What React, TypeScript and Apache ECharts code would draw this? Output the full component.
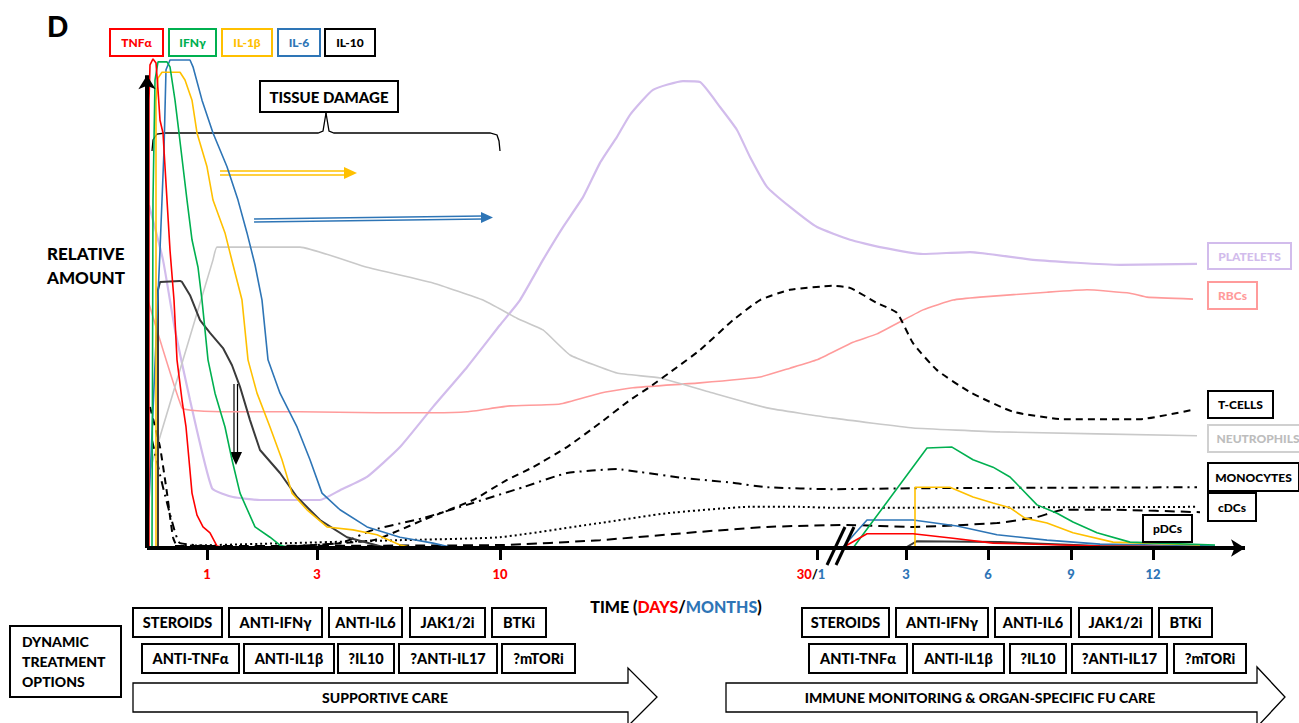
import React, { useEffect, useRef } from "react";
import * as echarts from "echarts";

// ---- data (x: time position along axis, y: relative amount 0-100) ----
const tnfEarly = [[2,0],[2,91.4],[3,98.6],[6,99.8],[9,99],[11,93.5],[13,87.3],[16,84.7],[20,71],[23,60.8],[27,50.6],[30,38.4],[35,30.2],[39,24.7],[42,18],[45,11.2],[50,6.7],[56,4.3],[63,3.1],[70,0.4],[78,0]];
const tnfLate = [[695,0],[720,2.9],[766,2.9],[806,2],[846,1],[953,0.4],[1068,0.2]];
const ifnEarly = [[5,0],[6,71],[8,95.5],[11,99.2],[20,99.2],[23,98.2],[28,91.4],[32,84.7],[40,71],[45,62.9],[51,57.3],[55,50.6],[61,38.4],[68,31.6],[78,24.7],[85,18],[93,11.2],[108,4.3],[123,2.2],[133,0.6],[143,0]];
const ifnLate = [[706,0],[780,20.4],[805,20.6],[826,18],[846,16.5],[863,14.5],[873,12.4],[890,8.8],[910,7.1],[926,5.3],[950,3.1],[983,1.2],[1068,0.6]];
const il1Early = [[9,0],[9,91.4],[11,95.9],[15,97.1],[33,97.1],[38,95.5],[45,91.4],[50,84.7],[60,77.8],[66,71],[78,64.3],[86,57.8],[95,50.6],[101,38.4],[110,31.6],[123,24.7],[135,18],[145,11.2],[160,7.8],[180,4.3],[206,3.7],[230,2.7],[253,0.6],[268,0]];
const il1Late = [[768,0],[768,12.4],[803,12.4],[826,10.4],[846,9.2],[863,8.2],[878,6.1],[900,5.1],[926,3.1],[966,1.2],[1053,0.6]];
const il6Early = [[0,0],[13,60.8],[17,81.2],[19,97.6],[23,99.6],[43,99.6],[46,98.2],[55,91.4],[66,84.7],[80,77.8],[91,71],[100,64.3],[108,57.8],[115,50.6],[121,38.4],[133,31.6],[150,24.7],[163,18],[175,11.2],[193,7.8],[220,4.3],[253,2.2],[286,1],[303,0.2],[323,0]];
const il6Late = [[695,0],[720,5.7],[766,5.7],[810,4.5],[850,2.7],[900,1.6],[953,0.8],[1068,0.4]];
const il10Early = [[11,0],[11,52.7],[13,54.3],[33,54.5],[35,54.3],[43,51.6],[53,46.5],[63,43.9],[76,40.8],[85,37.3],[93,32.9],[103,26.1],[113,20],[133,15.3],[150,10.4],[173,5.7],[200,2.2],[236,0.2],[273,0]];
const il10Late = [[758,0],[770,1.4],[853,1.2],[953,0.4],[1053,0.2]];
const platelets = [[2,70],[16,58.8],[28,44.5],[43,30.2],[65,12.2],[86,10.4],[113,9.8],[173,9.8],[193,11.8],[220,14.5],[253,20.6],[286,28.8],[320,36.9],[353,45.5],[373,50.6],[396,58.8],[416,65.5],[436,71.6],[453,78.6],[470,83.9],[483,88.4],[506,93.5],[536,95.3],[553,95.1],[573,90],[590,85.3],[603,79.8],[620,73.7],[643,69.6],[670,65.5],[703,62.9],[733,61.4],[776,60],[823,60.4],[886,58.8],[973,57.8],[1050,58]];
const rbcs = [[0,51.2],[35,28.6],[50,28],[86,27.8],[153,27.8],[230,27.6],[286,27.6],[320,27.8],[363,29],[413,29.4],[453,31.6],[486,32.7],[553,33.7],[613,34.9],[643,36.7],[670,38.4],[706,42],[730,43.7],[776,48.6],[806,50.6],[833,51.2],[900,52.2],[940,52.7],[983,52],[1000,51.2],[1046,50.8]];
const neutrophils = [[3,15.9],[66,58.8],[70,61.4],[153,61.4],[220,57.3],[286,54.1],[336,50.6],[370,46.9],[396,44.5],[423,39.4],[470,35.7],[513,34.7],[563,31.8],[620,28.6],[686,26.5],[766,24.5],[853,23.7],[1050,22.9]];
const tcells = [[3,28.8],[13,20.6],[20,11.2],[26,2.2],[31,0.2],[103,0],[226,1.6],[276,5.7],[326,9.8],[360,13.9],[386,16.5],[420,20.6],[453,25.5],[483,30.2],[503,32.9],[530,36.9],[553,40.4],[586,46.5],[613,50.6],[643,52.7],[686,53.5],[703,53.1],[730,50],[750,48],[766,41.8],[790,36.3],[823,31.8],[866,27.8],[916,26.3],[993,26.3],[1046,28.2]];
const monocytes = [[5,22],[16,12.4],[26,4.7],[33,1],[103,0],[193,1],[226,3.7],[276,6.1],[326,9.2],[376,12.4],[420,15.3],[470,16.1],[493,15.5],[536,14.3],[586,13.3],[620,12.4],[686,12],[773,12.2],[1050,12.4]];
const cdcs = [[28,0.4],[143,1],[253,1.6],[353,2.2],[453,5.1],[520,7.1],[603,8.4],[653,8.4],[686,8.2],[1050,8.4]];
const pdcs = [[28,0.4],[353,0.6],[453,1.6],[553,3.3],[620,4.3],[700,4.7],[766,4.3],[850,5.1],[890,6.3],[916,7.8],[966,7.8],[1053,7.3]];

const tickValues = [60, 170, 353, 670, 759, 841, 924, 1006];
const tickLabels: Record<number, string> = {
  60: "{r|1}", 170: "{r|3}", 353: "{r|10}", 670: "{r|30}{k|/}{b|1}{s|}",
  759: "{b|3}", 841: "{b|6}", 924: "{b|9}", 1006: "{b|12}",
};

const treatRow1 = ["STEROIDS", "ANTI-IFNγ", "ANTI-IL6", "JAK1/2i", "BTKi"];
const treatRow2 = ["ANTI-TNFα", "ANTI-IL1β", "?IL10", "?ANTI-IL17", "?mTORi"];

const RED = "#FF0000", GREEN = "#00B050", YELLOW = "#FFC000", BLUE = "#2E75B6", DARK = "#3A3A3A";
const LAV = "#D2BCEC", PINK = "#FF9B9B", GREY = "#C9C9C9";
const F = "Lato";
const W = 900;

function box(x: number, y: number, w: number, h: number, text: string, color: string, size = 14, border = "#000", lw = 2) {
  return {
    type: "group",
    children: [
      { type: "rect", shape: { x, y, width: w, height: h }, style: { fill: "#fff", stroke: border, lineWidth: lw }, z: 20 },
      { type: "text", x: x + w / 2, y: y + h / 2, style: { text, fill: color, font: `${W} ${size}px ${F}`, align: "center", verticalAlign: "middle" }, z: 21 },
    ],
  };
}

export default function App() {
  const ref = useRef<HTMLDivElement>(null);
  useEffect(() => {
    document.body.style.margin = "0";
    const chart = echarts.init(ref.current!, null, { renderer: "svg" });
    const line = (name: string, data: any, color: string, width = 1.6, type: any = "solid", z = 3, smooth: any = false) => ({
      name, type: "line", data, symbol: "none", showSymbol: false, connectNulls: false, silent: true, z,
      smooth,
      lineStyle: { color, width, type, cap: "butt" },
    });
    const join = (a: any[], b: any[]) => [...a, [null, null], ...b];

    const row1X = [[133, 89], [229, 93], [329, 73], [410, 75], [492, 54]];
    const row2X = [[142, 97], [244, 90], [338, 56], [399, 98], [502, 73]];
    const row1R = [[802, 87], [896, 92], [995, 76], [1079, 73], [1159, 53]];
    const row2R = [[809, 98], [913, 91], [1010, 56], [1072, 95], [1174, 72]];

    const graphics: any[] = [
      { type: "text", x: 47, y: 12, style: { text: "D", fill: "#000", font: `${W} 28px ${F}` } },
      box(110, 29, 53, 27, "TNFα", RED, 12, RED),
      box(169, 29, 47, 27, "IFNγ", GREEN, 12, GREEN),
      box(222, 29, 50, 27, "IL-1β", YELLOW, 12, YELLOW),
      box(278, 29, 42, 27, "IL-6", BLUE, 12, BLUE),
      box(325, 29, 50, 27, "IL-10", "#000", 12, "#000"),
      box(260, 81, 138, 31, "TISSUE DAMAGE", "#000", 15),
      { type: "polyline", shape: { points: [[152, 151], [153, 140], [157, 134], [165, 133], [318, 133], [323, 131], [326, 113]] }, style: { stroke: "#000", lineWidth: 1.3, fill: null } },
      { type: "polyline", shape: { points: [[326, 113], [329, 131], [334, 133], [490, 133], [497, 135], [499, 141], [500, 151]] }, style: { stroke: "#000", lineWidth: 1.3, fill: null } },
      // yellow double arrow
      { type: "line", shape: { x1: 220, y1: 171, x2: 346, y2: 171 }, style: { stroke: YELLOW, lineWidth: 1.3 } },
      { type: "line", shape: { x1: 220, y1: 175, x2: 346, y2: 175 }, style: { stroke: YELLOW, lineWidth: 1.3 } },
      { type: "polygon", shape: { points: [[344, 167], [357, 173], [344, 179]] }, style: { fill: YELLOW } },
      // blue double arrow
      { type: "line", shape: { x1: 254, y1: 219, x2: 483, y2: 216 }, style: { stroke: BLUE, lineWidth: 1.3 } },
      { type: "line", shape: { x1: 254, y1: 222, x2: 483, y2: 219 }, style: { stroke: BLUE, lineWidth: 1.3 } },
      { type: "polygon", shape: { points: [[481, 212], [493, 217.5], [481, 223]] }, style: { fill: BLUE } },
      // IL-10 down arrow
      { type: "line", shape: { x1: 234, y1: 384, x2: 234, y2: 455 }, style: { stroke: "#000", lineWidth: 1.2 } },
      { type: "line", shape: { x1: 237.5, y1: 384, x2: 237.5, y2: 455 }, style: { stroke: "#000", lineWidth: 1.2 } },
      { type: "polygon", shape: { points: [[230, 452], [236, 465], [242, 452]] }, style: { fill: "#000" } },
      // axis break
      { type: "line", shape: { x1: 827, y1: 565, x2: 845, y2: 527 }, style: { stroke: "#000", lineWidth: 3 }, z: 15 },
      { type: "line", shape: { x1: 836, y1: 565, x2: 854, y2: 527 }, style: { stroke: "#000", lineWidth: 3 }, z: 15 },
      // relative amount
      { type: "text", x: 47, y: 253, style: { text: "RELATIVE", fill: "#000", font: `${W} 17px ${F}`, verticalAlign: "middle" } },
      { type: "text", x: 47, y: 277, style: { text: "AMOUNT", fill: "#000", font: `${W} 17px ${F}`, verticalAlign: "middle" } },
      // time label
      {
        type: "text", x: 676, y: 606,
        style: {
          text: "{k|TIME (}{r|DAYS}{k|/}{b|MONTHS}{k|)}", align: "center", verticalAlign: "middle",
          rich: {
            k: { fill: "#000", font: `${W} 16px ${F}` },
            r: { fill: RED, font: `${W} 16px ${F}` },
            b: { fill: BLUE, font: `${W} 16px ${F}` },
          },
        },
      },
      // right labels
      box(1208, 243, 83, 26, "PLATELETS", LAV, 12, LAV),
      box(1208, 282, 49, 27, "RBCs", PINK, 12, PINK),
      box(1208, 391, 65, 27, "T-CELLS", "#000", 12),
      box(1208, 425, 100, 27, "NEUTROPHILS", "#BDBDBD", 12, "#D0D0D0"),
      box(1208, 463, 91, 28, "MONOCYTES", "#000", 12),
      box(1208, 493, 48, 28, "cDCs", "#000", 12),
      box(1143, 515, 49, 27, "pDCs", "#000", 12),
      // bottom
      box(10, 626, 111, 71, "", "#000"),
      { type: "text", x: 22, y: 641, style: { text: "DYNAMIC", fill: "#000", font: `${W} 14px ${F}`, verticalAlign: "middle" }, z: 22 },
      { type: "text", x: 22, y: 661, style: { text: "TREATMENT", fill: "#000", font: `${W} 14px ${F}`, verticalAlign: "middle" }, z: 22 },
      { type: "text", x: 22, y: 681, style: { text: "OPTIONS", fill: "#000", font: `${W} 14px ${F}`, verticalAlign: "middle" }, z: 22 },
      { type: "polygon", shape: { points: [[133, 683], [628, 683], [628, 668], [657, 697], [628, 726], [628, 712], [133, 712]] }, style: { fill: "#fff", stroke: "#000", lineWidth: 1.3 } },
      { type: "text", x: 385, y: 697, style: { text: "SUPPORTIVE CARE", fill: "#000", font: `${W} 14px ${F}`, align: "center", verticalAlign: "middle" } },
      { type: "polygon", shape: { points: [[726, 683], [1257, 683], [1257, 667], [1285, 697], [1257, 727], [1257, 712], [726, 712]] }, style: { fill: "#fff", stroke: "#000", lineWidth: 1.3 } },
      { type: "text", x: 980, y: 697, style: { text: "IMMUNE MONITORING & ORGAN-SPECIFIC FU CARE", fill: "#000", font: `${W} 14px ${F}`, align: "center", verticalAlign: "middle" } },
    ];
    treatRow1.forEach((t, i) => {
      graphics.push(box(row1X[i][0], 608, row1X[i][1], 29, t, "#000", 14.5));
      graphics.push(box(row1R[i][0], 608, row1R[i][1], 29, t, "#000", 14.5));
    });
    treatRow2.forEach((t, i) => {
      graphics.push(box(row2X[i][0], 644, row2X[i][1], 29, t, "#000", 14.5));
      graphics.push(box(row2R[i][0], 644, row2R[i][1], 29, t, "#000", 14.5));
    });

    chart.setOption({
      animation: false,
      grid: { left: 147, top: 58, width: 1100, height: 490, outerBoundsMode: "none", containLabel: false },
      xAxis: {
        type: "value", min: 0, max: 1100,
        axisLine: { show: false }, splitLine: { show: false },
        axisTick: { show: true, customValues: tickValues, length: 12, lineStyle: { color: "#000", width: 3 } },
        axisLabel: {
          show: true, customValues: tickValues, margin: 19,
          formatter: (v: number) => tickLabels[v] || "",
          rich: {
            r: { color: RED, fontWeight: W, fontSize: 13, fontFamily: F },
            b: { color: BLUE, fontWeight: W, fontSize: 13, fontFamily: F },
            k: { color: "#000", fontWeight: W, fontSize: 13, fontFamily: F },
            s: { width: 12 },
          },
        },
      },
      yAxis: { type: "value", min: 0, max: 100, show: false },
      series: [
        line("Platelets", platelets, LAV, 2.2, "solid", 3, 0.15),
        line("RBCs", rbcs, PINK, 1.6, "solid", 3, 0.12),
        line("Neutrophils", neutrophils, GREY, 1.6, "solid", 3, 0.12),
        line("T-cells", tcells, "#000", 2, [7, 5], 3, 0.15),
        line("Monocytes", monocytes, "#000", 2, [9, 5, 2, 5], 3, 0.15),
        line("cDCs", cdcs, "#000", 2, [2, 3], 3, 0.15),
        line("pDCs", pdcs, "#000", 2, [10, 6], 3, 0.15),
        line("IL-10", join(il10Early, il10Late), DARK, 2, "solid", 4),
        line("IL-6", join(il6Early, il6Late), BLUE, 1.6, "solid", 4),
        line("IL-1β", join(il1Early, il1Late), YELLOW, 1.6, "solid", 4),
        line("IFNγ", join(ifnEarly, ifnLate), GREEN, 1.6, "solid", 4),
        line("TNFα", join(tnfEarly, tnfLate), RED, 1.6, "solid", 4),
        {
          name: "axes", type: "line", data: [], z: 10, silent: true,
          markLine: {
            silent: true, symbol: ["none", "arrow"], symbolSize: [13, 14], animation: false,
            label: { show: false },
            lineStyle: { color: "#000", width: 4, type: "solid" },
            data: [
              [{ coord: [0, 0] }, { coord: [1098, 0] }],
              [{ coord: [0, 0] }, { coord: [0, 96.5] }],
            ],
          },
        },
      ],
      graphic: graphics,
    });
    return () => chart.dispose();
  }, []);
  return <div ref={ref} style={{ width: 1299, height: 723 }} />;
}
